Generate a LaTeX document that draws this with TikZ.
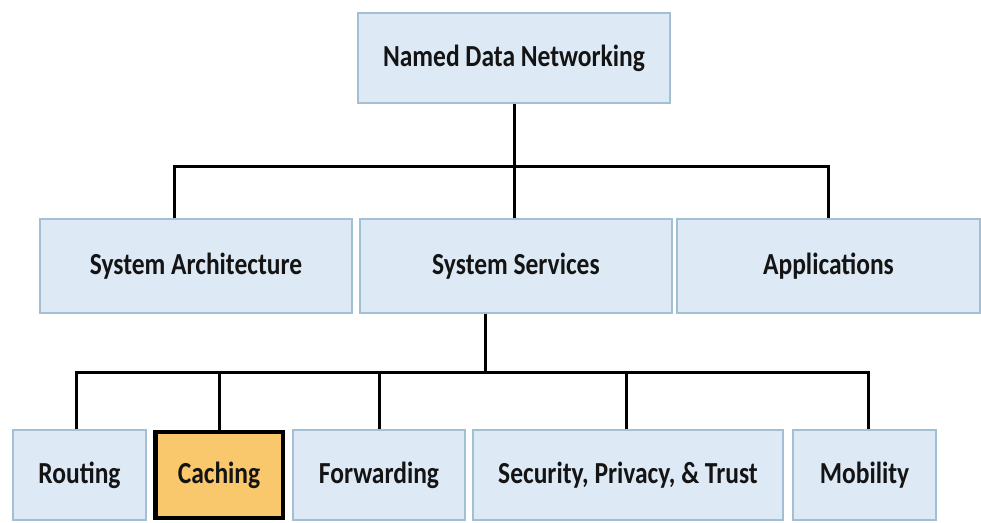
\documentclass[tikz,border=0pt]{standalone}
\usepackage{fontspec}
\setmainfont{Carlito}
\definecolor{boxfill}{HTML}{DDEAF6}
\definecolor{boxline}{HTML}{A3BFD3}
\definecolor{hlfill}{HTML}{F9C76C}
\definecolor{txt}{HTML}{141414}
\newcommand\lbl[1]{\scalebox{1}[1.2]{#1}}
\tikzset{
  box/.style={draw=boxline, line width=1.3pt, fill=boxfill, rectangle, inner sep=0pt,
    text=txt, font=\fontsize{25.5}{30}\selectfont\bfseries},
  hlbox/.style={box, draw=black, line width=4.5pt, fill=hlfill},
  conn/.style={draw=black, line width=3pt},
}
\begin{document}
\begin{tikzpicture}[x=1pt,y=-1pt]
\useasboundingbox[fill=white] (0,0) rectangle (981,522);
% level 1
\node[box, minimum width=312pt, minimum height=90pt] (ndn) at (514,58) {\lbl{Named Data Networking}};
% level 2
\node[box, minimum width=312pt, minimum height=94pt] (sa) at (196,266) {\lbl{System Architecture}};
\node[box, minimum width=312pt, minimum height=94pt] (ss) at (516,266) {\lbl{System Services}};
\node[box, minimum width=303pt, minimum height=94pt] (apps) at (828.5,266) {\lbl{Applications}};
% level 3
\node[box, minimum width=133pt, minimum height=90pt] (routing) at (79.5,475) {\lbl{Routing}};
\node[hlbox, minimum width=127.5pt, minimum height=86pt] (caching) at (219,475) {\lbl{Caching}};
\node[box, minimum width=172pt, minimum height=90pt] (forwarding) at (379,475) {\lbl{Forwarding}};
\node[box, minimum width=310pt, minimum height=90pt] (security) at (628,475) {\lbl{Security, Privacy, \& Trust}};
\node[box, minimum width=143pt, minimum height=90pt] (mobility) at (864.5,475) {\lbl{Mobility}};
% upper connectors
\coordinate (bus1) at ([yshift=52pt]ss.north);
\draw[conn] ([xshift=-22pt]sa.north) |- (bus1) -| ([xshift=-0.5pt]apps.north);
\draw[conn] (ndn.south) -- (ndn.south |- bus1);
\draw[conn] (ss.north -| ndn.south) -- (ndn.south |- bus1);
% lower connectors
\coordinate (bus2) at ([yshift=57pt]routing.north);
\draw[conn] ([xshift=-31pt]ss.south) -- ([xshift=-31pt]ss.south |- bus2);
\draw[conn] ([xshift=-3.5pt]routing.north) |- ([xshift=3.5pt]mobility.north |- bus2) -- ([xshift=3.5pt]mobility.north);
\draw[conn] (caching.north) -- (caching.north |- bus2);
\draw[conn] (forwarding.north) -- (forwarding.north |- bus2);
\draw[conn] ([xshift=-2pt]security.north) -- ([xshift=-2pt]security.north |- bus2);
\end{tikzpicture}
\end{document}
